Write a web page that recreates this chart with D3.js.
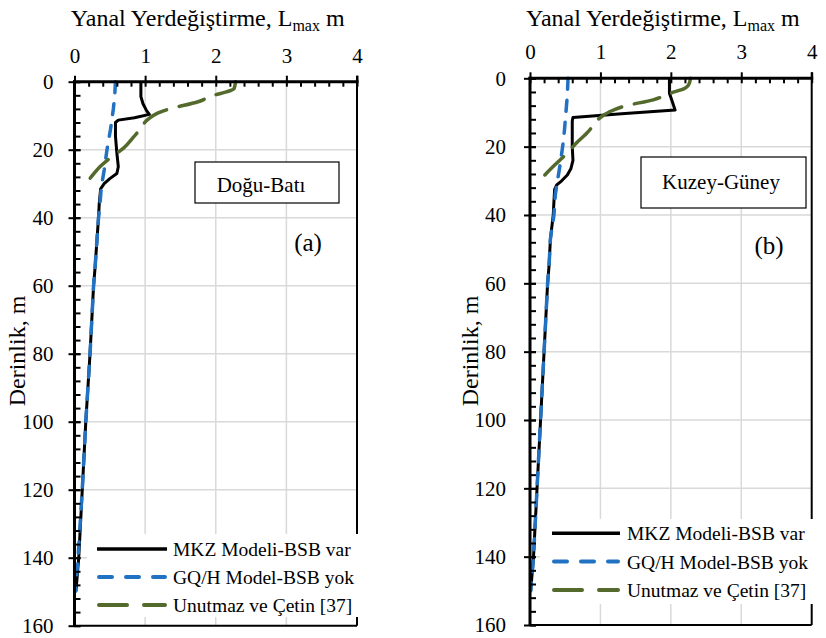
<!DOCTYPE html>
<html>
<head>
<meta charset="utf-8">
<script src="https://cdn.jsdelivr.net/npm/d3@7"></script>
<style>
  body { margin: 0; background: #fff; }
  svg { display: block; }
</style>
</head>
<body>
<svg id="chart" width="826" height="638" font-family="Liberation Serif"></svg>
<script>
// ---------- DATA ----------
const xTicks = [0, 1, 2, 3, 4];
const yTicks = [0, 20, 40, 60, 80, 100, 120, 140, 160];
const seriesNames = ["MKZ Modeli-BSB var", "GQ/H Model-BSB yok", "Unutmaz ve Çetin [37]"];
const panelLabels = ["Doğu-Batı", "Kuzey-Güney"];
const panelTags = ["(a)", "(b)"];

// [lateral displacement (m), depth (m)]
const mkzA = [[0.94,0],[0.94,4.4],[0.97,6.5],[1.02,8.5],[1.06,9.6],[0.85,10.6],[0.62,11.3],[0.58,12],[0.58,16],[0.6,21],[0.62,25],[0.6,27],[0.5,28.5],[0.42,30],[0.37,31.5],[0.35,36],[0.34,40],[0.32,46],[0.29,55],[0.27,60],[0.22,80],[0.16,100],[0.11,120],[0.06,140],[0.02,150]];
const gqhA = [[0.58,0],[0.57,4],[0.55,8],[0.51,14],[0.46,20],[0.42,26],[0.38,31],[0.36,36],[0.34,40],[0.32,46],[0.29,55],[0.27,60],[0.22,80],[0.16,100],[0.11,120],[0.05,140],[0.01,150]];
const ucA  = [[2.28,0],[2.26,2],[2.15,3],[1.97,4],[1.75,5.9],[1.33,8.1],[1.17,9.3],[0.86,15.7],[0.69,19.6],[0.5,22.5],[0.36,25],[0.22,28.4],[0.1,31]];

const mkzB = [[1.98,0],[1.98,4.4],[2.02,6.8],[2.06,9.3],[1.3,10.4],[0.61,11.5],[0.6,12.5],[0.6,20],[0.61,24],[0.58,26.5],[0.53,28.3],[0.45,30],[0.38,31.2],[0.35,32.5],[0.34,36],[0.33,40],[0.29,47],[0.27,55],[0.25,60],[0.2,80],[0.15,100],[0.1,120],[0.05,140],[0.01,150]];
const gqhB = [[0.54,0],[0.53,5],[0.51,10],[0.49,15],[0.47,19],[0.43,25],[0.39,30],[0.36,34],[0.34,40],[0.29,47],[0.27,55],[0.25,60],[0.2,80],[0.15,100],[0.1,120],[0.05,140],[0.01,150]];
const ucB  = [[2.28,0],[2.25,2],[2.2,2.9],[1.99,4.4],[1.75,6.3],[1.35,8.1],[1.13,9.8],[0.8,16.2],[0.68,18.5],[0.5,22.5],[0.35,25.4],[0.21,28.3],[0.11,30.5]];

// ---------- STYLE ----------
const colors = ["#000000", "#2272c3", "#536a2c"];
const widths = [3, 3.5, 3.5];
const dashes = [null, "11,11", "26,13"];
const FONT = "Liberation Serif";

const svg = d3.select("#chart");

const panels = [
  { left: 74.5, top: 81.7, right: 357, bottom: 625.7, data: [mkzA, gqhA, ucA],
    label: panelLabels[0], tag: panelTags[0],
    box: {x: 195, y: 162, w: 144, h: 41, tx: 261, ty: 192},
    tagPos: {x: 308, y: 251},
    yTitleX: 25, labelGap: 21,
    legend: {bx: 87, by: 534, bw: 285, bh: 83, x1: 97, x2: 167, tx: 173, y0: 549, dy: 28} },
  { left: 530, top: 78.3, right: 811.7, bottom: 625, data: [mkzB, gqhB, ucB],
    label: panelLabels[1], tag: panelTags[1],
    box: {x: 641, y: 157, w: 165, h: 51, tx: 721, ty: 189},
    tagPos: {x: 769, y: 254},
    yTitleX: 478, labelGap: 24,
    legend: {bx: 540, by: 519, bw: 286, bh: 85, x1: 552, x2: 620, tx: 627, y0: 533.3, dy: 28.3} }
];

panels.forEach(p => {
  const g = svg.append("g");
  const x = d3.scaleLinear().domain([0, 4]).range([p.left, p.right]);
  const y = d3.scaleLinear().domain([0, 160]).range([p.top, p.bottom]);

  // gridlines
  g.append("g").selectAll("line").data(xTicks.filter(v => v > 0 && v < 4)).join("line")
    .attr("x1", d => x(d)).attr("x2", d => x(d)).attr("y1", p.top).attr("y2", p.bottom)
    .attr("stroke", "#d9d9d9").attr("stroke-width", 1.5);
  g.append("g").selectAll("line").data(yTicks.filter(v => v > 0 && v < 160)).join("line")
    .attr("x1", p.left).attr("x2", p.right).attr("y1", d => y(d)).attr("y2", d => y(d))
    .attr("stroke", "#d9d9d9").attr("stroke-width", 1.5);

  // right & bottom border
  g.append("line").attr("x1", p.right).attr("x2", p.right).attr("y1", p.top - 6).attr("y2", p.bottom)
    .attr("stroke", "#000").attr("stroke-width", 2);
  g.append("line").attr("x1", p.left).attr("x2", p.right).attr("y1", p.bottom).attr("y2", p.bottom)
    .attr("stroke", "#000").attr("stroke-width", 2);

  // series
  const line = d3.line().x(d => x(d[0])).y(d => y(d[1]));
  p.data.forEach((s, i) => {
    g.append("path").datum(s)
      .attr("d", i === 2 ? line.curve(d3.curveMonotoneY)(s) : line.curve(d3.curveLinear)(s))
      .attr("fill", "none").attr("stroke", colors[i]).attr("stroke-width", widths[i])
      .attr("stroke-linecap", i === 0 ? "butt" : "round")
      .attr("stroke-linejoin", "round")
      .attr("stroke-dasharray", dashes[i]);
  });

  // top x axis
  const xMinor = d3.range(0, 4.0001, 0.2);
  g.append("g").attr("transform", `translate(0,${p.top})`)
    .call(d3.axisTop(x).tickValues(xMinor).tickSize(-5).tickFormat(""))
    .call(a => { a.select(".domain").remove(); a.selectAll("line").attr("stroke-width", 2); });
  const xa = g.append("g").attr("transform", `translate(0,${p.top})`)
    .call(d3.axisTop(x).tickValues(xTicks).tickSize(6).tickPadding(13).tickFormat(d3.format("d")));
  xa.attr("font-family", FONT).attr("font-size", 21);
  xa.select(".domain").attr("stroke-width", 3).attr("d", `M${p.left - 1.5},0H${p.right + 1.5}`);
  xa.selectAll("line").attr("stroke-width", 2);
  xa.selectAll("text").attr("font-family", FONT).attr("font-size", 21).attr("fill", "#000");

  // left y axis
  const yMinor = d3.range(0, 160.001, 4);
  g.append("g").attr("transform", `translate(${p.left},0)`)
    .call(d3.axisLeft(y).tickValues(yMinor).tickSize(-6).tickFormat(""))
    .call(a => { a.select(".domain").remove(); a.selectAll("line").attr("stroke-width", 2); });
  const ya = g.append("g").attr("transform", `translate(${p.left},0)`)
    .call(d3.axisLeft(y).tickValues(yTicks).tickSize(6).tickPadding(p.labelGap - 6).tickFormat(d3.format("d")));
  ya.attr("font-family", FONT).attr("font-size", 21);
  ya.select(".domain").attr("stroke-width", 3).attr("d", `M0,${p.top - 1.5}V${p.bottom + 1}`);
  ya.selectAll("line").attr("stroke-width", 2).attr("x2", -6).attr("x1", 6);
  ya.selectAll("text").attr("font-family", FONT).attr("font-size", 21).attr("fill", "#000");

  // axis titles
  const t = g.append("text").attr("x", (p.left + p.right) / 2 - 8).attr("y", 26)
    .attr("text-anchor", "middle").attr("font-size", 24).attr("font-family", FONT);
  t.append("tspan").text("Yanal Yerdeğiştirme, L");
  t.append("tspan").attr("font-size", 16).attr("dy", 5).text("max");
  t.append("tspan").attr("dy", -5).text(" m");

  g.append("text").attr("transform", `translate(${p.yTitleX},${351}) rotate(-90)`)
    .attr("text-anchor", "middle").attr("font-size", 24).attr("font-family", FONT).text("Derinlik, m");

  // label box
  g.append("rect").attr("x", p.box.x).attr("y", p.box.y).attr("width", p.box.w).attr("height", p.box.h)
    .attr("fill", "#fff").attr("stroke", "#000").attr("stroke-width", 1.2);
  g.append("text").attr("x", p.box.tx).attr("y", p.box.ty).attr("text-anchor", "middle")
    .attr("font-size", 21).attr("font-family", FONT).text(p.label);
  g.append("text").attr("x", p.tagPos.x).attr("y", p.tagPos.y).attr("text-anchor", "middle")
    .attr("font-size", 25).attr("font-family", FONT).text(p.tag);

  // legend
  const L = p.legend;
  g.append("rect").attr("x", L.bx).attr("y", L.by).attr("width", L.bw).attr("height", L.bh).attr("fill", "#fff");
  seriesNames.forEach((name, i) => {
    const yy = L.y0 + i * L.dy;
    g.append("line").attr("x1", L.x1 + (i ? 2 : 0)).attr("x2", L.x2 - (i ? 2 : 0)).attr("y1", yy).attr("y2", yy)
      .attr("stroke", colors[i]).attr("stroke-width", widths[i] + 0.5)
      .attr("stroke-linecap", i === 0 ? "butt" : "round")
      .attr("stroke-dasharray", i === 1 ? "13,14" : i === 2 ? "28,17" : null);
    g.append("text").attr("x", L.tx).attr("y", yy + 7).attr("font-size", 19.5).attr("font-family", FONT).text(name);
  });
});
</script>
</body>
</html>
